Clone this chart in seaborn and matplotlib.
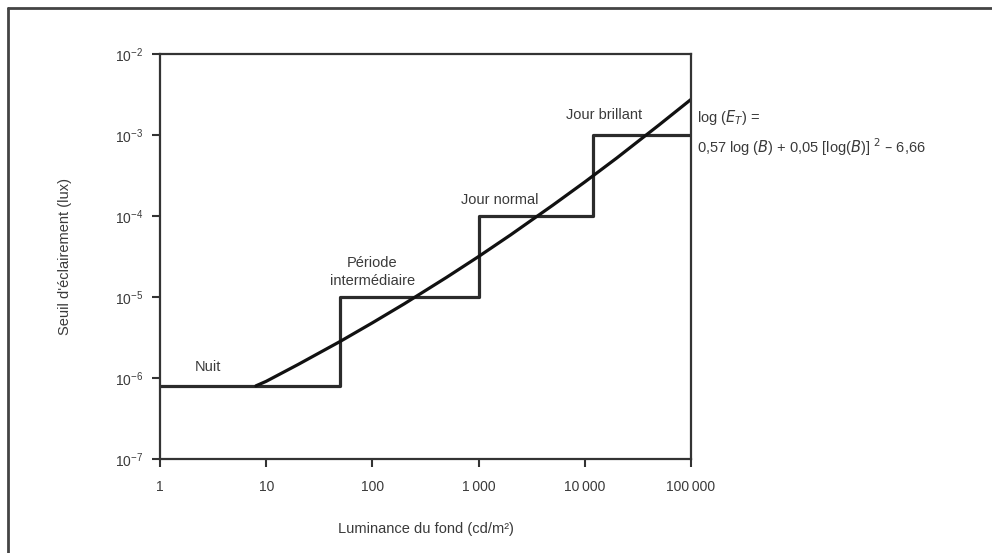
import numpy as np
import pandas as pd
import matplotlib
matplotlib.use("Agg")
import matplotlib.pyplot as plt
import matplotlib.ticker as mticker
from matplotlib.lines import Line2D
import seaborn as sns

# luminance thresholds of the four adaptation periods (cd/m2) and their levels (lux)
step_luminance = [1, 50, 1000, 12000, 100000]
step_threshold = [8e-7, 1e-5, 1e-4, 1e-3, 1e-3]

# threshold curve, values
curve_luminance = [8, 10, 20, 50, 100, 200, 500, 1000, 2000, 5000,
                   10000, 20000, 50000, 100000]
curve_threshold = [8.0e-7, 9.1e-7, 1.47e-6, 2.84e-6, 4.8e-6, 8.25e-6, 1.75e-5,
                   3.16e-5, 5.84e-5, 1.36e-4, 2.63e-4, 5.2e-4, 1.33e-3, 2.75e-3]

x_ticks = [1, 10, 100, 1000, 10000, 100000]
x_labels = ["1", "10", "100", "1\u2009000", "10\u2009000", "100\u2009000"]

period_labels = ["Nuit", "Période\nintermédiaire", "Jour normal", "Jour brillant"]
label_x = [2.8, 100, 1580, 15100]
label_y = [1.38e-6, 2.03e-5, 1.58e-4, 1.77e-3]

sns.set_theme(style="white")
plt.rcParams["font.family"] = ["Liberation Sans", "DejaVu Sans"]
text_col = "#3a3a3a"

fig = plt.figure(figsize=(9.92, 5.53), dpi=100)
ax = fig.add_axes([160 / 992, 94 / 553, 531 / 992, 405 / 553])

steps = pd.DataFrame({"B": step_luminance, "E": step_threshold})
curve = pd.DataFrame({"B": curve_luminance, "E": curve_threshold})

sns.lineplot(data=steps, x="B", y="E", ax=ax, color="#2b2b2b", lw=2.3,
             drawstyle="steps-post", estimator=None)
sns.lineplot(data=curve, x="B", y="E", ax=ax, color="#111111", lw=2.3,
             estimator=None)

ax.set_xscale("log")
ax.set_yscale("log")
ax.set_xlim(1, 100000)
ax.set_ylim(1e-7, 1e-2)
ax.xaxis.set_major_locator(mticker.FixedLocator(x_ticks))
ax.xaxis.set_major_formatter(mticker.FixedFormatter(x_labels))
ax.xaxis.set_minor_locator(mticker.NullLocator())
ax.yaxis.set_major_locator(mticker.LogLocator(base=10, numticks=10))
ax.yaxis.set_major_formatter(mticker.LogFormatterMathtext())
ax.yaxis.set_minor_locator(mticker.NullLocator())

ax.tick_params(axis="both", which="major", direction="out", length=6, width=1.5,
               color="#333333", labelsize=10, labelcolor=text_col, bottom=True, left=True)
ax.tick_params(axis="x", pad=9)
ax.tick_params(axis="y", pad=6)
for s in ax.spines.values():
    s.set_color("#333333")
    s.set_linewidth(1.6)

ax.set_xlabel("Luminance du fond (cd/m²)", fontsize=10.5, color=text_col, labelpad=20.5)
ax.set_ylabel("Seuil d'éclairement (lux)", fontsize=10.5, color=text_col, labelpad=31)

for lab, lx, ly in zip(period_labels, label_x, label_y):
    ax.text(lx, ly, lab, ha="center", va="center", fontsize=10.5, color=text_col,
            linespacing=1.3)

ax.text(1.012, 0.842, "log ($E_T$) =", transform=ax.transAxes, ha="left", va="center",
        fontsize=10.5, color=text_col, clip_on=False)
ax.text(1.012, 0.770, "0,57 log ($B$) + 0,05 [log($B$)] $^2$ \u2013 6,66",
        transform=ax.transAxes, ha="left", va="center", fontsize=10.5, color=text_col,
        clip_on=False)

# outer frame, cut at the right and bottom edges of the page
fig.add_artist(Line2D([8 / 992, 8 / 992], [-0.05, 1 - 8 / 553], transform=fig.transFigure,
                      color="#444444", lw=2))
fig.add_artist(Line2D([8 / 992, 1.05], [1 - 8 / 553, 1 - 8 / 553], transform=fig.transFigure,
                      color="#444444", lw=2))

fig.savefig("out.png", dpi=100)
